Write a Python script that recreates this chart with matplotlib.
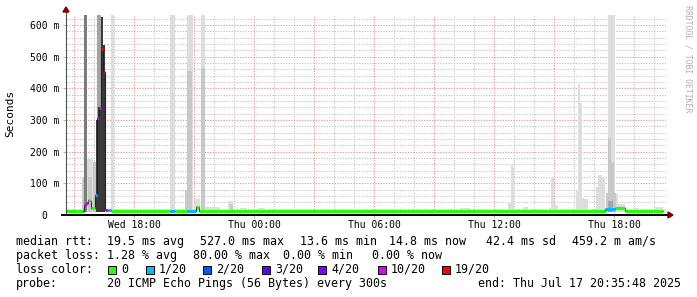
import matplotlib
matplotlib.use('Agg')
import matplotlib.pyplot as plt
from matplotlib.patches import Rectangle, Polygon

W, H = 697, 297
MONO = 'DejaVu Sans Mono'

# time axis in hours since Wed 00:00, graph covers 30 h ending Thu 20:35:48
t_end = 44 + 35 / 60 + 48 / 3600
t_start = t_end - 30
y_max = 632

x_ticks = [18, 24, 30, 36, 42]
x_tick_labels = ['Wed 18:00', 'Thu 00:00', 'Thu 06:00', 'Thu 12:00', 'Thu 18:00']
y_ticks = [0, 100, 200, 300, 400, 500, 600]
y_tick_labels = ['0  ', '100 m', '200 m', '300 m', '400 m', '500 m', '600 m']

# smoke bands: start hour, end hour, top (ms), band level (0 = outer/lightest)
smoke_t0 = [15.40, 15.50, 15.67, 15.70, 15.95, 16.15, 16.10, 16.20, 16.35, 16.45, 16.85,
            19.80, 20.65, 20.65, 20.55, 21.05, 21.35, 21.35, 21.55, 21.90, 22.70, 22.80,
            23.30, 24.20, 34.30, 36.70, 36.85, 36.95, 37.45, 38.75, 38.85, 39.00, 40.10,
            40.20, 40.30, 40.40, 40.55, 41.10, 41.20, 41.40, 41.70, 41.70, 41.80, 41.60,
            41.70, 42.05, 42.20, 42.95, 44.05]
smoke_t1 = [15.50, 15.67, 15.95, 15.90, 16.10, 16.35, 16.20, 16.35, 16.45, 16.55, 17.00,
            20.05, 20.95, 20.90, 20.80, 21.30, 21.55, 21.55, 21.90, 22.30, 22.95, 22.95,
            23.65, 24.55, 34.80, 36.85, 36.95, 37.02, 37.70, 38.85, 39.00, 39.20, 40.20,
            40.30, 40.40, 40.55, 40.70, 41.20, 41.40, 41.55, 42.05, 41.85, 42.00, 42.10,
            41.95, 42.20, 42.55, 43.25, 44.45]
smoke_top = [117, 640, 176, 120, 167, 640, 300, 340, 625, 537, 640,
             640, 640, 455, 80, 50, 640, 464, 25, 24, 44, 34,
             22, 22, 22, 38, 161, 148, 24, 22, 117, 32, 76,
             413, 353, 54, 50, 88, 126, 117, 640, 243, 167, 70,
             45, 66, 35, 22, 24]
smoke_level = [1, 3, 0, 1, 1, 2, 4, 4, 4, 4, 0,
               0, 0, 1, 1, 0, 0, 1, 0, 0, 0, 1,
               0, 0, 0, 0, 0, 0, 0, 0, 0, 0, 0,
               0, 0, 0, 0, 0, 0, 0, 0, 1, 1, 1,
               2, 0, 0, 0, 0]

# median rtt segments: start hour, end hour, ms, loss class
med_t0 = [14.60, 15.45, 15.52, 15.60, 15.68, 15.78, 15.85, 16.05, 16.15, 16.25, 16.35,
          16.45, 16.55, 16.70, 16.85, 19.80, 20.05, 20.65, 21.10, 21.25, 41.55, 42.05, 42.55]
med_t1 = [15.45, 15.52, 15.60, 15.68, 15.78, 15.85, 16.05, 16.15, 16.25, 16.35, 16.45,
          16.55, 16.70, 16.85, 19.80, 20.05, 20.65, 21.10, 21.25, 41.55, 42.05, 42.55, 44.45]
med_ms = [14, 14, 33, 37, 47, 44, 23, 63, 306, 338, 525,
          452, 15, 15, 14, 14, 14, 14, 24, 14, 18, 22, 14]
med_loss = [0, 2, 5, 5, 0, 0, 0, 1, 5, 5, 6,
            6, 5, 1, 0, 1, 0, 1, 0, 0, 1, 0, 0]

loss_labels = ['0', '1/20', '2/20', '3/20', '4/20', '10/20', '19/20']
loss_colors = ['#26ff00', '#00b8ff', '#0059ff', '#5e00ff', '#7e00ff', '#dd00ff', '#ff0000']
smoke_colors = ['#dddddd', '#c8c8c8', '#a4a4a4', '#7c7c7c', '#3a3a3a']

rtt_items = ['median rtt:', '19.5 ms avg', '527.0 ms max', '13.6 ms min',
             '14.8 ms now', '42.4 ms sd', '459.2 m am/s']
loss_items = ['packet loss:', '1.28 % avg', '80.00 % max', '0.00 % min', '0.00 % now']
probe_text = '20 ICMP Echo Pings (56 Bytes) every 300s'
end_text = 'end: Thu Jul 17 20:35:48 2025'


def fx(px):
    return px / W


def fy(py):
    return 1 - py / H


fig = plt.figure(figsize=(W / 100, H / 100), dpi=100, facecolor='white')
ax = fig.add_axes([fx(66), fy(215), 600 / W, 200 / H])
ax.set_xlim(t_start, t_end)
ax.set_ylim(0, y_max)
for s in ax.spines.values():
    s.set_visible(False)

# grid (behind the smoke)
minor_c, major_c = '#c8c8c8', '#e8a0a0'
for h in range(15, 45):
    c = major_c if h % 3 == 0 else minor_c
    ax.axvline(h, color=c, lw=0.75, ls=(0, (1.3, 1.3)), zorder=0.5 + 0.1 * (h % 3 == 0))
for v in range(20, 640, 20):
    c = major_c if v % 100 == 0 else minor_c
    ax.axhline(v, color=c, lw=0.75, ls=(0, (1.3, 1.3)), zorder=0.5 + 0.1 * (v % 100 == 0))

# smoke, lightest first
order = sorted(range(len(smoke_t0)), key=lambda i: smoke_level[i])
for i in order:
    ax.bar(smoke_t0[i], smoke_top[i] - 10, width=smoke_t1[i] - smoke_t0[i], bottom=10,
           align='edge', color=smoke_colors[smoke_level[i]], linewidth=0, zorder=1)

# median: dark thin line then loss coloured segments
xs = med_t0 + [med_t1[-1]]
ys = med_ms + [med_ms[-1]]
ax.step(xs, ys, where='post', color='#202020', lw=0.8, zorder=4)
for t0, t1, m, l in zip(med_t0, med_t1, med_ms, med_loss):
    ax.hlines(m, t0, t1, color=loss_colors[l], lw=2.2, zorder=5)

# axes
ax.set_xticks(x_ticks)
ax.set_xticklabels(x_tick_labels, family=MONO, fontsize=7)
ax.set_yticks(y_ticks)
ax.set_yticklabels(y_tick_labels, family=MONO, fontsize=7)
ax.tick_params(axis='x', length=2, width=0.8, color=major_c, pad=1.5)
ax.tick_params(axis='y', length=2, width=0.8, color=major_c, pad=2.6)

ax.plot([0, 0], [0, 1.02], transform=ax.transAxes, color='#505050', lw=0.8,
        clip_on=False, zorder=6)
ax.plot([-0.007, 1.005], [0, 0], transform=ax.transAxes, color='black', lw=1.4,
        clip_on=False, zorder=6)
fig.patches.append(Polygon([(fx(63), fy(12)), (fx(69), fy(12)), (fx(66), fy(7))],
                           closed=True, color='#7f0000', transform=fig.transFigure))
fig.patches.append(Polygon([(fx(668), fy(212)), (fx(668), fy(218)), (fx(673), fy(215))],
                           closed=True, color='#7f0000', transform=fig.transFigure))

fig.text(fx(10), fy(113), 'Seconds', rotation=90, family=MONO, fontsize=8,
         ha='center', va='center')
fig.text(fx(688), fy(5), 'RRDTOOL / TOBI OETIKER', rotation=270, family=MONO,
         fontsize=5.9, color='#b0b0b0', ha='center', va='top')

# legend
fs = 8.4
rtt_x = [16, 107, 200, 300, 389, 486, 572]
for x, s in zip(rtt_x, rtt_items):
    fig.text(fx(x), fy(245), s, family=MONO, fontsize=fs, va='baseline')
loss_x = [16, 107, 193, 283, 372]
for x, s in zip(loss_x, loss_items):
    fig.text(fx(x), fy(259), s, family=MONO, fontsize=fs, va='baseline')
fig.text(fx(16), fy(273), 'loss color:', family=MONO, fontsize=fs, va='baseline')
sq_x = [108, 146, 203, 262, 318, 378, 442]
for x, lab, c in zip(sq_x, loss_labels, loss_colors):
    fig.patches.append(Rectangle((fx(x), fy(274)), fx(8), 8 / H, facecolor=c,
                                 edgecolor='black', lw=0.7, transform=fig.transFigure))
    fig.text(fx(x + 13), fy(273), lab, family=MONO, fontsize=fs, va='baseline')
fig.text(fx(16), fy(287), 'probe:', family=MONO, fontsize=fs, va='baseline')
fig.text(fx(107), fy(287), probe_text, family=MONO, fontsize=fs, va='baseline')
fig.text(fx(478), fy(287), end_text, family=MONO, fontsize=fs, va='baseline')

fig.savefig('out.png', dpi=100, facecolor='white')
